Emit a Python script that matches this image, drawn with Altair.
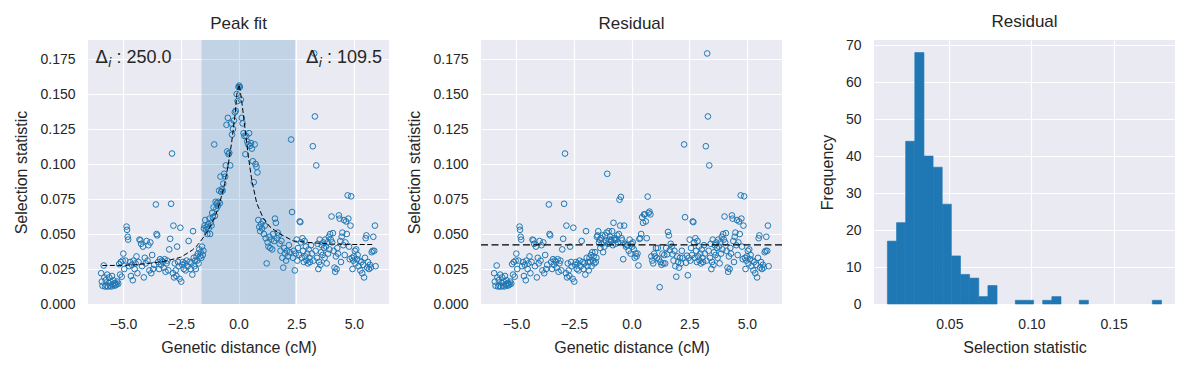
import altair as alt
import pandas as pd

# ---------------- data ----------------
x_left = [-5.95,-5.92,-5.89,-5.84,-5.81,-5.78,-5.75,-5.72,-5.69,-5.66,-5.63,-5.60,-5.57,-5.54,-5.51,-5.48,-5.45,-5.42,-5.38,-5.35,-5.32,-5.28,-5.25,-5.21,-5.17,-5.13,-5.10,-5.06,-5.02,-4.99,
          -4.95,-4.90,-4.85,-4.83,-4.80,-4.78,-4.74,-4.70,-4.66,-4.62,-4.58,-4.55,-4.50,-4.46,-4.42,-4.38,-4.33,-4.29,-4.25,-4.22,-4.18,-4.14,-4.10,-4.06,-4.02,
          -3.98,-3.94,-3.90,-3.86,-3.82,-3.78,-3.74,-3.70,-3.65,-3.58,-3.55,-3.52,-3.48,-3.44,-3.40,-3.36,-3.32,-3.28,-3.24,-3.20,-3.16,-3.12,-3.08,-3.04,-3.00,
          -2.96,-2.92,-2.88,-2.84,-2.82,-2.79,-2.76,-2.72,-2.69,-2.66,-2.62,-2.59,-2.55,-2.52,-2.48,-2.44,-2.41,-2.37,-2.33,-2.29,-2.25,-2.20,-2.16,-2.12,-2.08]
y_left = [.022,.016,.013,.0275,.019,.0125,.017,.013,.021,.0125,.015,.019,.013,.016,.0125,.020,.014,.017,.013,.015,.0135,.014,.016,.0145,.0285,.021,.030,.0195,.031,.036,
          .025,.031,.0553,.053,.048,.046,.027,.030,.020,.028,.017,.031,.025,.029,.034,.022,.030,.046,.0455,.043,.027,.041,.019,.033,.029,
          .045,.031,.042,.024,.044,.022,.035,.025,.028,.0711,.050,.049,.030,.025,.032,.028,.031,.030,.026,.032,.023,.029,.031,.024,.039,
          .0466,.0716,.1075,.022,.056,.019,.029,.024,.020,.041,.030,.027,.018,.0545,.016,.028,.030,.025,.029,.024,.031,.027,.045,.030,.025]

x_mid = [-2.04,-2.00,-1.97,-1.94,-1.91,-1.88,-1.85,-1.82,-1.79,-1.76,
         -1.73,-1.70,-1.67,-1.64,-1.61,-1.58,-1.55,-1.52,-1.50,-1.47,
         -1.44,-1.41,-1.38,-1.35,-1.32,-1.29,-1.26,-1.23,-1.20,-1.17,
         -1.14,-1.11,-1.08,-1.05,-1.02,-0.99,-0.96,-0.93,-0.90,-0.87,
         -0.84,-0.81,-0.78,-0.75,-0.72,-0.69,-0.66,-0.62,-0.58,-0.55,
         -0.52,-0.49,-0.46,-0.43,-0.40,-0.36,-0.32,-0.28,-0.24,-0.20,
         -0.16,-0.12,-0.08,-0.04,0.00,0.03,0.06,0.10,0.14,0.18,
         0.22,0.26,0.30,0.34,0.38,0.42,0.46,0.50,0.54,0.58,
         0.62,0.66,0.70,0.74,0.78,0.82,0.86,0.90,0.94,0.98,
         1.02,1.06,1.10,1.14,1.18,1.22,1.26,1.30,1.34,1.38,
         1.42,1.46,1.50,1.54,1.58,1.62,1.66,1.70,1.74,1.78,
         1.82,1.86,1.90,1.94,1.98,2.02,2.06,2.10,2.14,2.18,
         2.22,2.28,2.32,2.36,2.40,2.44,2.48]
y_mid_obs = [.029,.021,.052,.033,.027,.031,.025,.034,.031,.036,
             .029,.039,.034,.037,.033,.041,.035,.038,.054,.056,
             .060,.053,.055,.050,.057,.054,.061,.050,.058,.056,
             .065,.062,.069,.114,.063,.073,.068,.072,.070,.073,
             .081,.072,.091,.080,.082,.081,.086,.093,.091,.099,
             .128,.109,.133,.107,.108,.099,.129,.121,.125,.131,
             .137,.138,.150,.145,.155,.156,.155,.146,.133,.129,
             .122,.120,.107,.120,.116,.114,.122,.113,.115,.111,
             .102,.087,.114,.100,.098,.094,.060,.055,.052,.057,
             .054,.059,.050,.056,.047,.029,.044,.041,.048,.040,
             .046,.039,.050,.045,.061,.058,.047,.051,.049,.043,
             .038,.045,.033,.026,.040,.036,.031,.038,.034,.042,
             .037,.1175,.0657,.033,.038,.024,.036]
y_mid_res = [.029,.021,.052,.033,.027,.030,.024,.033,.030,.035,
             .027,.037,.031,.034,.029,.037,.030,.033,.048,.049,
             .052,.044,.046,.040,.047,.043,.049,.037,.044,.041,
             .049,.045,.051,.093,.043,.052,.046,.048,.045,.046,
             .052,.042,.058,.047,.046,.043,.046,.049,.044,.050,
             .0745,.056,.0765,.047,.0455,.032,.056,.043,.041,.042,
             .042,.038,.046,.036,.043,.041,.044,.039,.033,.036,
             .034,.036,.0275,.0465,.047,.050,.062,.058,.064,.064,
             .059,.047,.0767,.065,.066,.064,.034,.031,.029,.036,
             .034,.040,.033,.040,.032,.012,.030,.028,.036,.029,
             .035,.029,.040,.0355,.0515,.049,.0385,.043,.041,.0355,
             .031,.038,.027,.0195,.034,.030,.026,.033,.029,.038,
             .033,.114,.062,.0295,.0345,.0205,.033]

x_right = [2.52,2.55,2.58,2.62,2.65,2.68,2.71,2.74,2.77,2.80,
           2.83,2.86,2.89,2.92,2.95,2.98,3.01,3.04,3.07,3.10,
           3.14,3.18,3.22,3.25,3.28,3.31,3.34,3.37,3.40,3.43,
           3.46,3.49,3.52,3.55,3.58,3.61,3.64,3.67,3.70,3.73,
           3.76,3.79,3.82,3.85,3.88,3.91,3.94,3.97,4.00,4.03,
           4.06,4.09,4.12,4.16,4.19,4.22,4.25,4.28,4.31,4.35,
           4.38,4.41,4.44,4.47,4.50,4.54,4.57,4.60,4.63,4.66,
           4.69,4.73,4.76,4.79,4.82,4.85,4.88,4.91,4.94,4.97,
           5.00,5.04,5.07,5.10,5.13,5.16,5.20,5.24,5.28,5.32,
           5.36,5.40,5.44,5.48,5.51,5.54,5.57,5.61,5.65,5.69,
           5.73,5.77,5.81,5.84,5.88,5.91,5.94]
y_right = [.046,.031,.040,.035,.059,.0585,.044,.033,.047,.038,
           .030,.045,.034,.041,.031,.036,.029,.039,.033,.030,
           .042,.036,.1127,.031,.179,.134,.038,.099,.033,.043,
           .025,.030,.046,.028,.037,.042,.035,.044,.040,.033,
           .046,.041,.029,.044,.036,.048,.039,.050,.046,.0625,
           .044,.0506,.038,.026,.023,.034,.025,.040,.036,.0633,
           .061,.045,.030,.048,.051,.042,.060,.035,.044,.059,
           .050,.0776,.061,.041,.032,.056,.0769,.033,.025,.031,
           .034,.038,.029,.039,.032,.035,.027,.031,.024,.030,
           .022,.028,.019,.033,.047,.049,.026,.030,.025,.028,
           .026,.037,.038,.048,.038,.056,.027]

fit_x = [-5.9,-5.0,-4.5,-4.0,-3.5,-3.0,-2.5,-2.0,-1.75,-1.5,-1.25,-1.0,-0.8,-0.6,-0.45,-0.3,-0.15,-0.07,0.03,0.14,0.29,0.43,0.58,0.79,1.08,1.37,1.8,2.38,3.0,4.0,5.0,5.9]
fit_y = [.0275,.0276,.028,.0288,.0298,.0313,.0334,.0385,.0425,.048,.0545,.063,.073,.086,.099,.115,.135,.150,.157,.145,.124,.105,.088,.072,.061,.055,.050,.045,.044,.0428,.0425,.0425]

span_lo, span_hi = -1.6, 2.45
res_baseline = [0.0422]

hist_counts = [17,22,44,68,40,37,27,13,8,7,2,5,0,0,1,1,0,1,2,0,0,1,0,0,0,0,0,0,0,1]
hist_lo, hist_step = 0.01235, 0.005558

delta_left, delta_right = "250.0", "109.5"

# ---------------- tables ----------------
xs = x_left + x_mid + x_right
obs_df = pd.DataFrame({"x": xs, "y": y_left + y_mid_obs + y_right})
res_df = pd.DataFrame({"x": xs, "y": y_left + y_mid_res + y_right})
fit_df = pd.DataFrame({"x": fit_x, "y": fit_y})
span_df = pd.DataFrame({"x": [span_lo], "x2": [span_hi]})
base_df = pd.DataFrame({"y": res_baseline})
hist_df = pd.DataFrame({
    "b0": [hist_lo + i * hist_step for i in range(len(hist_counts))],
    "b1": [hist_lo + (i + 1) * hist_step for i in range(len(hist_counts))],
    "count": hist_counts,
})
hist_df = hist_df[hist_df["count"] > 0]

BLUE = "#1f77b4"
W, H = 301, 264
XDOM = [-6.52, 6.52]
YDOM = [0, 0.1886]
MAIN = "Liberation Sans"

def X(field="x"):
    return alt.X(f"{field}:Q", scale=alt.Scale(domain=XDOM, nice=False, zero=False),
                 axis=alt.Axis(values=[-5, -2.5, 0, 2.5, 5], format=".1f",
                               title="Genetic distance (cM)"))

def Y(field="y"):
    return alt.Y(f"{field}:Q", scale=alt.Scale(domain=YDOM, nice=False),
                 axis=alt.Axis(values=[0, 0.025, 0.05, 0.075, 0.1, 0.125, 0.15, 0.175],
                               format=".3f", title="Selection statistic"))

def points(df):
    return alt.Chart(df).mark_point(shape="circle", filled=False, color=BLUE,
                                    strokeWidth=1, size=32, opacity=1).encode(x=X(), y=Y())

def delta_label(xv, val):
    d = pd.DataFrame({"x": [xv], "y": [0.1719]})
    base = alt.Chart(d)
    a = base.mark_text(text="Δ", align="left", baseline="alphabetic", font="DejaVu Sans",
                       fontSize=18, color="#262626").encode(x=X(), y=Y())
    b = base.mark_text(text="i", align="left", baseline="alphabetic", font="DejaVu Sans",
                       fontStyle="italic", fontSize=13, dx=12.5, dy=4,
                       color="#262626").encode(x=X(), y=Y())
    c = base.mark_text(text=": " + val, align="left", baseline="alphabetic", font=MAIN,
                       fontSize=18, dx=21, color="#262626").encode(x=X(), y=Y())
    return a + b + c

span_layer = alt.Chart(span_df).mark_rect(color=BLUE, opacity=0.2).encode(x=X(), x2="x2:Q")
fit_layer = alt.Chart(fit_df).mark_line(color="black", strokeWidth=1,
                                        strokeDash=[5, 2.5]).encode(x=X(), y=Y())

p1 = alt.layer(span_layer, points(obs_df), fit_layer,
               delta_label(-6.195, delta_left), delta_label(2.927, delta_right)
               ).properties(width=W, height=H, title="Peak fit")

base_layer = alt.Chart(base_df).mark_rule(color="black", strokeWidth=1.2,
                                          strokeDash=[7, 3.5]).encode(y=Y())
p2 = alt.layer(points(res_df), base_layer).properties(width=W, height=H, title="Residual")

p3 = alt.Chart(hist_df).mark_rect(color=BLUE, stroke=BLUE, strokeWidth=0.6).encode(
    x=alt.X("b0:Q", scale=alt.Scale(domain=[0.0042, 0.1873], nice=False, zero=False),
            axis=alt.Axis(values=[0.05, 0.10, 0.15], format=".2f", title="Selection statistic")),
    x2="b1:Q",
    y=alt.Y("count:Q", scale=alt.Scale(domain=[0, 71.4], nice=False),
            axis=alt.Axis(values=[0, 10, 20, 30, 40, 50, 60, 70], format="d", title="Frequency")),
    y2=alt.datum(0),
).properties(width=W, height=H, title="Residual")

chart = alt.hconcat(p1, p2, p3, spacing=92, bounds="flush").properties(
    padding={"left": 5, "top": 5, "right": 5, "bottom": 2}
).configure_view(fill="#EAEAF2", strokeWidth=0).configure_axis(
    grid=True, gridColor="white", gridWidth=1.2, domain=False, ticks=False,
    labelFont=MAIN, labelFontSize=14, labelColor="#262626",
    titleFont=MAIN, titleFontSize=16, titleFontWeight="normal", titleColor="#262626",
).configure_axisY(labelPadding=13, titlePadding=10).configure_axisX(
    labelPadding=13, titlePadding=8
).configure_title(font=MAIN, fontSize=17, fontWeight="normal", color="#262626", offset=7)

chart.save("out.html", embed_options={"renderer": "svg", "actions": False})
